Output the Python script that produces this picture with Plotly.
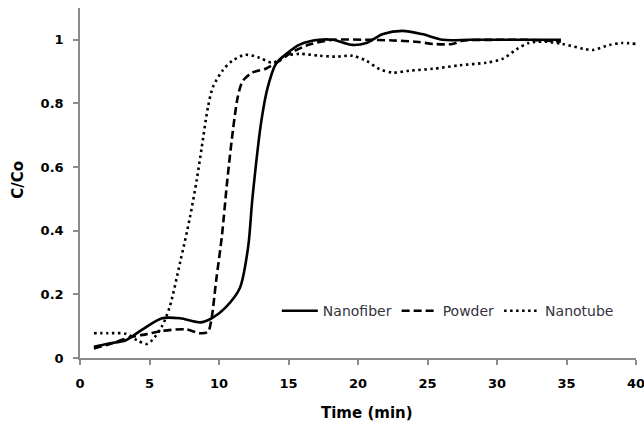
import plotly.graph_objects as go

nanofiber_x = [1, 2, 3.3, 4.5, 5.9, 7.2, 8.7, 9.5, 10.5, 11.5, 12.1, 12.4, 13.05, 13.5, 14.1, 14.85, 15.8, 17.2, 18.2, 19.6, 20.6, 21.8, 23.2, 24.6, 26.1, 28, 30, 32, 34.6]
nanofiber_y = [0.035, 0.045, 0.056, 0.09, 0.125, 0.125, 0.112, 0.125, 0.16, 0.22, 0.35, 0.5, 0.746, 0.85, 0.925, 0.956, 0.985, 1.0, 1.0, 0.984, 0.99, 1.018, 1.028, 1.018, 1.0, 1.0, 1.0, 1.0, 1.0]

powder_x = [1, 2, 3.6, 4.8, 5.9, 7.65, 8.6, 9.2, 9.45, 9.8, 10.2, 10.6, 11.0, 11.35, 11.7, 12.4, 13.4, 14.35, 15.2, 16.5, 18.2, 20.6, 22.5, 24.2, 25.4, 26.8, 27.5, 30, 32, 34.6]
powder_y = [0.03, 0.042, 0.065, 0.075, 0.085, 0.09, 0.078, 0.082, 0.12, 0.245, 0.38, 0.56, 0.715, 0.82, 0.87, 0.897, 0.91, 0.934, 0.96, 0.985, 1.0, 1.0, 0.998, 0.994, 0.987, 0.987, 0.997, 1.0, 1.0, 0.995]

nanotube_x = [1, 2, 3.3, 4.1, 4.8, 5.2, 5.9, 6.45, 7.2, 7.9, 8.4, 8.75, 9.2, 9.55, 10.25, 10.95, 11.9, 12.9, 13.85, 14.85, 15.8, 17.2, 18.4, 19.6, 20.6, 21.5, 22.5, 23.7, 25.4, 27.3, 29.2, 30.4, 31.4, 32.3, 33.5, 34.7, 36.2, 36.9, 38.1, 39, 40]
nanotube_y = [0.078, 0.078, 0.076, 0.056, 0.044, 0.056, 0.1, 0.16, 0.3, 0.44, 0.56, 0.66, 0.787, 0.85, 0.903, 0.934, 0.953, 0.944, 0.928, 0.95, 0.956, 0.95, 0.947, 0.95, 0.934, 0.909, 0.897, 0.903, 0.909, 0.92, 0.928, 0.94, 0.97, 0.99, 0.994, 0.987, 0.972, 0.968, 0.984, 0.99, 0.987]

y_ticks = [0, 0.2, 0.4, 0.6, 0.8, 1]
y_tick_labels = ["0", "0.2", "0.4", "0.6", "0.8", "1"]
x_ticks = [0, 5, 10, 15, 20, 25, 30, 35, 40]
x_title = "Time (min)"
y_title = "C/Co"

FONT = "DejaVu Sans"
AXIS_COLOR = "#8c8c8c"

fig = go.Figure()
fig.add_trace(go.Scatter(x=nanofiber_x, y=nanofiber_y, mode="lines", name="Nanofiber",
                         line=dict(color="black", width=2.6, shape="spline", smoothing=0.8)))
fig.add_trace(go.Scatter(x=powder_x, y=powder_y, mode="lines", name="Powder",
                         line=dict(color="black", width=2.6, dash="8px,4px", shape="spline", smoothing=0.8)))
fig.add_trace(go.Scatter(x=nanotube_x, y=nanotube_y, mode="lines", name="Nanotube",
                         line=dict(color="black", width=2.6, dash="2.5px,3.5px", shape="spline", smoothing=0.8)))

fig.update_layout(
    width=644, height=427,
    margin=dict(l=80, r=8, t=8, b=69, autoexpand=False),
    paper_bgcolor="white", plot_bgcolor="white",
    font=dict(family=FONT, size=13, color="black"),
    showlegend=True,
    legend=dict(orientation="h", x=0.354, y=0.134, xanchor="left", yanchor="middle",
                bgcolor="rgba(0,0,0,0)", font=dict(family=FONT, size=14, color="#333340"),
                itemwidth=36, tracegroupgap=0),
    annotations=[
        dict(text="<b>" + x_title + "</b>", xref="paper", yref="paper", x=0.516, y=-0.157,
             xanchor="center", yanchor="middle", showarrow=False,
             font=dict(family=FONT, size=15, color="black")),
        dict(text="<b>" + y_title + "</b>", xref="paper", yref="paper", x=-0.1115, y=0.509,
             xanchor="center", yanchor="middle", showarrow=False, textangle=-90,
             font=dict(family=FONT, size=15, color="black")),
    ],
)
fig.update_xaxes(range=[0, 40], tickvals=x_ticks, showgrid=False, zeroline=False, automargin=False,
                 showline=True, linecolor=AXIS_COLOR, linewidth=1.5,
                 ticks="outside", ticklen=5, tickcolor=AXIS_COLOR, tickwidth=1.5,
                 ticklabelstandoff=8, ticklabeloverflow="allow",
                 tickfont=dict(family=FONT, size=13, color="black", weight="bold"))
fig.update_yaxes(range=[0, 1.1], tickvals=y_ticks, ticktext=y_tick_labels, showgrid=False, zeroline=False,
                 automargin=False,
                 showline=True, linecolor=AXIS_COLOR, linewidth=1.5,
                 ticks="outside", ticklen=5, tickcolor=AXIS_COLOR, tickwidth=1.5,
                 ticklabelstandoff=7, ticklabeloverflow="allow",
                 tickfont=dict(family=FONT, size=13, color="black", weight="bold"))

# remove the browser's default page margin and scrollbars so the figure fills the window exactly
fig.write_html("out.html",
               config={"displayModeBar": False},
               post_script="document.body.style.margin='0';"
                           "document.body.style.overflow='hidden';"
                           "document.documentElement.style.overflow='hidden';")
